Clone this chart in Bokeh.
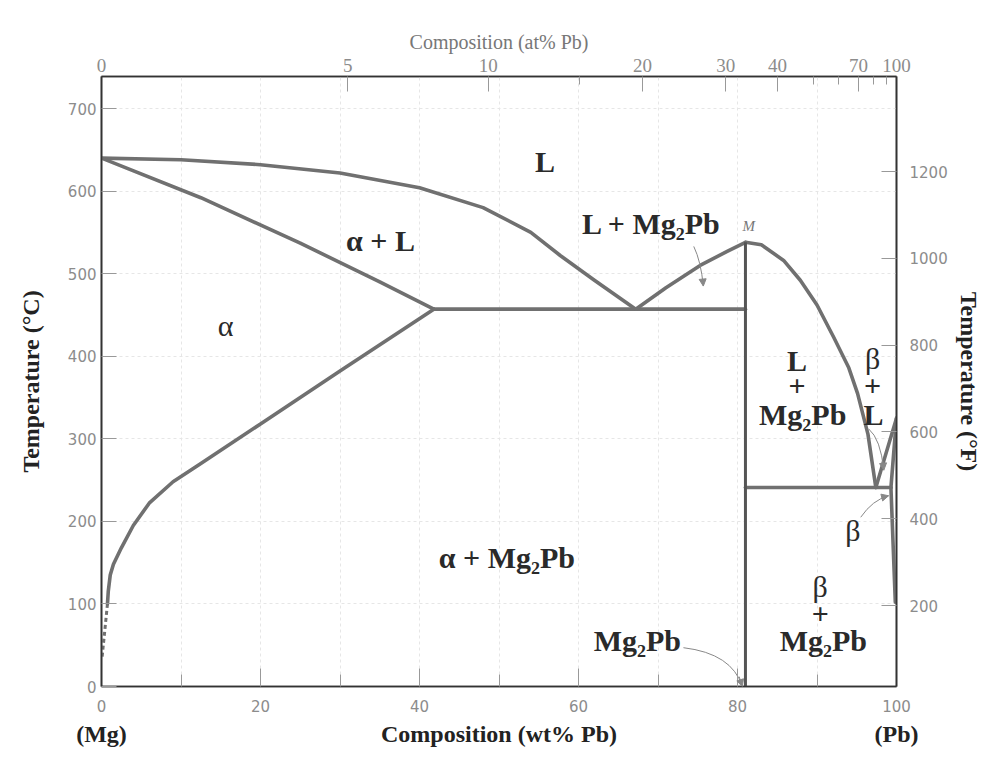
from bokeh.plotting import figure
from bokeh.models import Range1d, LinearAxis, FixedTicker, Label, Arrow, NormalHead
from bokeh.embed import file_html
from bokeh.resources import INLINE

# ---------------- data ----------------
# liquidus, Mg-rich side (wt% Pb, deg C)
liq_a_w = [0, 10, 20, 30, 40, 48, 54, 57.7, 62, 67.2]
liq_a_T = [640, 638, 632, 622, 604, 580, 550, 522, 492, 457]
# alpha solidus
sol_a_w = [0, 12.5, 25, 35, 41.8]
sol_a_T = [640, 592, 537, 490, 457]
# alpha solvus
solv_a_w = [41.8, 30, 20, 12.5, 9, 6, 4, 2.5, 1.5, 1.1, 0.85, 0.75]
solv_a_T = [457, 382, 318, 270, 248, 222, 195, 168, 148, 135, 115, 100]
solv_a_dash_w = [0.75, 0.07]
solv_a_dash_T = [100, 35]
# eutectic isotherms
eut1_w = [41.8, 81]
eut1_T = [457, 457]
eut2_w = [81, 99.3]
eut2_T = [241, 241]
# Mg2Pb compound line
cmp_w = [81, 81]
cmp_T = [0, 538]
# liquidus L + Mg2Pb (left of M)
liq_b_w = [67.2, 71, 75.3, 78.7, 81]
liq_b_T = [457, 483, 510, 527, 538]
# liquidus right of M
liq_c_w = [81, 83, 85.8, 87.9, 90, 92.1, 94, 95.1, 96.4, 97.4]
liq_c_T = [538, 535, 516, 492, 462, 423, 386, 355, 306, 241]
# Pb-rich side
liq_d_w = [97.4, 100]
liq_d_T = [241, 325]
sol_b_w = [100, 99.3]
sol_b_T = [325, 241]
solv_b_w = [99.3, 99.85]
solv_b_T = [241, 102]

# axis ticks
wt_major = [0, 20, 40, 60, 80, 100]
wt_minor = [10, 30, 50, 70, 90]
degC_ticks = [0, 100, 200, 300, 400, 500, 600, 700]
degF_ticks = [200, 400, 600, 800, 1000, 1200]
at_major = [0, 5, 10, 20, 30, 40, 70, 100]
at_minor = [15, 50, 60, 80, 90]
M_PB, M_MG = 207.2, 24.305
end_labels = {0: "(Mg)", 50: "Composition (wt% Pb)", 100: "(Pb)"}

# phase-field labels: (text, wt%, degC, weight)
labels = [
    ("L", 55.8, 636, "bold"),
    ("α + L", 35.1, 540, "bold"),
    ("α", 15.6, 437, "normal"),
    ("L + Mg₂Pb", 69.2, 561, "bold"),
    ("L", 87.5, 395, "bold"),
    ("+", 87.5, 363, "bold"),
    ("Mg₂Pb", 88.2, 330, "bold"),
    ("β", 97.0, 397, "normal"),
    ("+", 97.0, 363, "bold"),
    ("L", 97.1, 330, "bold"),
    ("β", 94.5, 189, "normal"),
    ("α + Mg₂Pb", 51.0, 156, "bold"),
    ("Mg₂Pb", 67.4, 56, "bold"),
    ("β", 90.4, 121, "normal"),
    ("+", 90.4, 87, "bold"),
    ("Mg₂Pb", 90.8, 56, "bold"),
]
# annotation arrows: start, control, end (wt%, degC)
arrows = [
    ((74.5, 533), (75.4, 515), (75.7, 485)),
    ((73.2, 47), (79.3, 40), (80.6, 0)),
    ((95.5, 205), (97.0, 226), (99.0, 231)),
    ((96.5, 312), (98.0, 300), (98.4, 262)),
]

# ---------------- figure ----------------
p = figure(width=984, height=758, x_range=Range1d(0, 100), y_range=Range1d(0, 738.8),
           output_backend="svg", toolbar_location=None,
           min_border_left=101, min_border_right=88, min_border_top=76, min_border_bottom=72)
p.extra_y_ranges = {"F": Range1d(13.4, 1419)}
p.outline_line_color = "#333333"
p.outline_line_width = 1.6
p.background_fill_color = "white"

TICK_FONT = "DejaVu Sans"
TICK_COLOR = "#8c8c8c"
SERIF = "Liberation Serif"
NARROW = "Liberation Sans Narrow"

p.xgrid.ticker = FixedTicker(ticks=[10, 20, 30, 40, 50, 60, 70, 80, 90])
p.ygrid.ticker = FixedTicker(ticks=[100, 200, 300, 400, 500, 600, 700])
p.xgrid.grid_line_color = "#e6e6e6"
p.ygrid.grid_line_color = "#e6e6e6"
p.xgrid.grid_line_dash = "3 3"
p.ygrid.grid_line_dash = "3 3"

def style_axis(ax, tin, minin=0, standoff=6):
    ax.major_tick_in = tin
    ax.major_tick_out = 0
    ax.minor_tick_in = minin
    ax.minor_tick_out = 0
    ax.major_tick_line_color = "#999999"
    ax.minor_tick_line_color = "#999999"
    ax.axis_line_color = "#333333"
    ax.axis_line_width = 1.6
    ax.major_label_text_font = TICK_FONT
    ax.major_label_text_font_size = "15px"
    ax.major_label_text_color = TICK_COLOR
    ax.major_label_standoff = standoff

def style_title(ax, standoff):
    ax.axis_label_text_font = SERIF
    ax.axis_label_text_font_size = "24px"
    ax.axis_label_text_font_style = "bold"
    ax.axis_label_text_color = "#222222"
    ax.axis_label_standoff = standoff

xa = p.xaxis[0]
xa.ticker = FixedTicker(ticks=wt_major, minor_ticks=wt_minor)
style_axis(xa, 18, 12, 13)

# second row below: (Mg)  Composition (wt% Pb)  (Pb)
xa2 = LinearAxis(ticker=FixedTicker(ticks=list(end_labels.keys())),
                 major_label_overrides=end_labels)
xa2.axis_line_color = None
xa2.major_tick_line_color = None
xa2.minor_tick_line_color = None
xa2.major_tick_in = 0
xa2.major_tick_out = 0
xa2.minor_tick_in = 0
xa2.minor_tick_out = 0
xa2.major_label_text_font = SERIF
xa2.major_label_text_font_size = "24px"
xa2.major_label_text_font_style = "bold"
xa2.major_label_text_color = "#222222"
xa2.major_label_standoff = 6
p.add_layout(xa2, "below")

ya = p.yaxis[0]
ya.ticker = FixedTicker(ticks=degC_ticks)
style_axis(ya, 15, 0, 5)
ya.axis_label = "Temperature (°C)"
style_title(ya, 21)

fa = LinearAxis(y_range_name="F", ticker=FixedTicker(ticks=degF_ticks))
style_axis(fa, 15, 0, 13)
fa.axis_label = "Temperature (°F)"
style_title(fa, 5)
p.add_layout(fa, "right")

def at_to_wt(a):
    return 100.0 * a * M_PB / (a * M_PB + (100 - a) * M_MG)

at_major_pos = [at_to_wt(a) for a in at_major]
at_minor_pos = [at_to_wt(a) for a in at_minor]
ta = LinearAxis(ticker=FixedTicker(ticks=at_major_pos, minor_ticks=at_minor_pos),
                major_label_overrides={pos: str(a) for pos, a in zip(at_major_pos, at_major)})
style_axis(ta, 15, 8, 5)
ta.major_label_text_font = NARROW
ta.major_label_text_font_size = "19px"
ta.axis_label = "Composition (at% Pb)"
ta.axis_label_text_font = NARROW
ta.axis_label_text_font_size = "20px"
ta.axis_label_text_font_style = "normal"
ta.axis_label_text_color = "#777777"
ta.axis_label_standoff = 3
p.add_layout(ta, "above")

# ---------------- phase boundaries ----------------
LC = "#707070"
LW = 3.6
for xs, ys in [(liq_a_w, liq_a_T), (sol_a_w, sol_a_T), (solv_a_w, solv_a_T),
               (eut1_w, eut1_T), (eut2_w, eut2_T), (liq_b_w, liq_b_T), (liq_c_w, liq_c_T),
               (liq_d_w, liq_d_T), (sol_b_w, sol_b_T), (solv_b_w, solv_b_T)]:
    p.line(xs, ys, line_color=LC, line_width=LW, line_join="round", line_cap="round")
p.line(cmp_w, cmp_T, line_color="#555555", line_width=3)
p.line(solv_a_dash_w, solv_a_dash_T, line_color=LC, line_width=3, line_dash="4 3")

# arrows
for (s, c, e) in arrows:
    p.quadratic(x0=[s[0]], y0=[s[1]], x1=[e[0]], y1=[e[1]], cx=[c[0]], cy=[c[1]],
                line_color="#888888", line_width=1)
    p.add_layout(Arrow(x_start=c[0] + 0.7 * (e[0] - c[0]), y_start=c[1] + 0.7 * (e[1] - c[1]),
                       x_end=e[0], y_end=e[1], line_color="#888888", line_width=1,
                       end=NormalHead(size=7, fill_color="#888888", line_color="#888888")))

for txt, x, y, wt in labels:
    p.add_layout(Label(x=x, y=y, text=txt, text_font=SERIF, text_font_size="30px",
                       text_font_style=wt, text_align="center", text_baseline="middle",
                       text_color="#2a2a2a"))
p.add_layout(Label(x=81.4, y=558, text="M", text_font=SERIF, text_font_size="15px",
                   text_font_style="italic", text_align="center", text_baseline="middle",
                   text_color="#777777"))

open("out.html", "w").write(file_html(p, INLINE))
